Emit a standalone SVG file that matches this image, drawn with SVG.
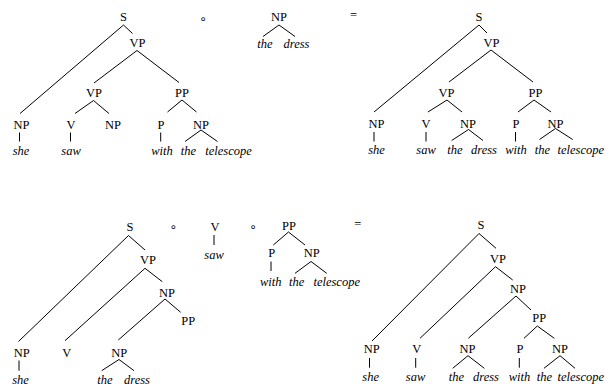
<svg xmlns="http://www.w3.org/2000/svg" width="605" height="387" viewBox="0 0 605 387">
<style>
text{font-family:"Liberation Serif","Times New Roman",serif;font-size:12.5px;fill:#000;text-anchor:middle}
.w{font-style:italic}
.e{text-anchor:end}
.op{font-family:"DejaVu Sans",sans-serif;font-size:12px}
#edges line{stroke:#000;stroke-width:1;fill:none}
</style>
<rect width="605" height="387" fill="#fff"/>
<g id="edges">
<!-- T1 top-left -->
<line x1="123.5" y1="25" x2="20" y2="113.5"/>
<line x1="123.5" y1="25" x2="132.5" y2="33.5"/>
<line x1="137" y1="50.5" x2="94" y2="83"/>
<line x1="137" y1="50.5" x2="179" y2="82.5"/>
<line x1="93.5" y1="100.5" x2="75" y2="113.5"/>
<line x1="93.5" y1="100.5" x2="109" y2="113.5"/>
<line x1="182" y1="100" x2="167.5" y2="112"/>
<line x1="182" y1="100" x2="196.5" y2="112"/>
<line x1="19.5" y1="132.5" x2="19.5" y2="141.5"/>
<line x1="70.5" y1="132.5" x2="70.5" y2="141.5"/>
<line x1="160.7" y1="132.5" x2="160.7" y2="141.5"/>
<line x1="201" y1="130" x2="185" y2="141.5"/>
<line x1="201" y1="130" x2="217.5" y2="141.5"/>
<!-- NP the dress -->
<line x1="279" y1="25" x2="263" y2="36.5"/>
<line x1="279" y1="25" x2="295" y2="36.5"/>
<!-- T2 top-right -->
<line x1="479" y1="25" x2="374" y2="112"/>
<line x1="479" y1="25" x2="487" y2="33"/>
<line x1="491" y1="50" x2="449" y2="82"/>
<line x1="491" y1="50" x2="533" y2="82"/>
<line x1="447" y1="100" x2="428" y2="112"/>
<line x1="447" y1="100" x2="462" y2="112"/>
<line x1="534" y1="100" x2="518" y2="112"/>
<line x1="534" y1="100" x2="551" y2="112"/>
<line x1="374" y1="132" x2="374" y2="141.5"/>
<line x1="426" y1="132" x2="426" y2="141.5"/>
<line x1="515.5" y1="132" x2="515.5" y2="141.5"/>
<line x1="468.5" y1="129.5" x2="451.7" y2="140.5"/>
<line x1="468.5" y1="129.5" x2="483" y2="140.5"/>
<line x1="555.5" y1="128.5" x2="539.5" y2="139.5"/>
<line x1="555.5" y1="128.5" x2="572.7" y2="139.5"/>
<!-- bottom middle -->
<line x1="214" y1="235" x2="214" y2="245"/>
<line x1="288.5" y1="232" x2="273.3" y2="245"/>
<line x1="288.5" y1="232" x2="305" y2="245"/>
<line x1="271" y1="261.5" x2="271" y2="271"/>
<line x1="311" y1="261.5" x2="295" y2="273.3"/>
<line x1="311" y1="261.5" x2="326.7" y2="273.3"/>
<!-- T3 bottom-left -->
<line x1="128.5" y1="235.5" x2="18.5" y2="341.5"/>
<line x1="128.5" y1="235.5" x2="145" y2="250"/>
<line x1="145" y1="268.3" x2="65" y2="340.7"/>
<line x1="145" y1="268.3" x2="162.3" y2="281.7"/>
<line x1="165" y1="299" x2="118.3" y2="340"/>
<line x1="165" y1="299" x2="180.7" y2="312.3"/>
<line x1="19" y1="360.5" x2="19" y2="370.7"/>
<line x1="119" y1="359.5" x2="101.7" y2="370.7"/>
<line x1="119" y1="359.5" x2="134" y2="370.7"/>
<!-- T4 bottom-right -->
<line x1="479" y1="233.5" x2="372" y2="341"/>
<line x1="479" y1="233.5" x2="496" y2="248.3"/>
<line x1="495.5" y1="266.7" x2="420" y2="338.3"/>
<line x1="495.5" y1="266.7" x2="512.7" y2="280"/>
<line x1="516" y1="296" x2="468.3" y2="338.3"/>
<line x1="516" y1="296" x2="531" y2="310"/>
<line x1="537.3" y1="326" x2="524" y2="338.3"/>
<line x1="537.3" y1="326" x2="554.3" y2="338.3"/>
<line x1="369.5" y1="358" x2="369.5" y2="367.7"/>
<line x1="415.7" y1="358" x2="415.7" y2="367.7"/>
<line x1="519.3" y1="358" x2="519.3" y2="367.7"/>
<line x1="468" y1="355.7" x2="452.7" y2="368.3"/>
<line x1="468" y1="355.7" x2="484.3" y2="368.3"/>
<line x1="560" y1="355.7" x2="544" y2="368.3"/>
<line x1="560" y1="355.7" x2="575" y2="368.3"/>
</g>
<!-- T1 -->
<g id="t1-S"><text x="123.5" y="20.5">S</text></g>
<g id="t1-VP"><text x="137.5" y="46.5">VP</text></g>
<g id="t1-VP2"><text x="94" y="96.5">VP</text></g>
<g id="t1-PP"><text x="182" y="96.5">PP</text></g>
<g id="t1-NP1"><text x="21.5" y="128.5">NP</text></g>
<g id="t1-V"><text x="71" y="128.5">V</text></g>
<g id="t1-NP2"><text x="113" y="128.5">NP</text></g>
<g id="t1-P"><text x="161" y="128.5">P</text></g>
<g id="t1-NP3"><text x="201" y="128.5">NP</text></g>
<g id="t1-she"><text class="w" x="21" y="155">she</text></g>
<g id="t1-saw"><text class="w" x="71" y="155">saw</text></g>
<g id="t1-with"><text class="w" x="162" y="155">with</text></g>
<g id="t1-the"><text class="w" x="188.5" y="155">the</text></g>
<g id="t1-telescope"><text class="w" x="228.5" y="155">telescope</text></g>
<g id="op1"><text class="op" x="203" y="22.5">∘</text></g>
<!-- NP the dress -->
<g id="np-dress"><text x="279" y="20.5">NP</text></g>
<g id="np-dress-the"><text class="w" x="265" y="48">the</text></g>
<g id="np-dress-dress"><text class="w" x="296.5" y="48">dress</text></g>
<g id="eq1"><text x="353.5" y="18.5">=</text></g>
<!-- T2 -->
<g id="t2-S"><text x="479" y="20.5">S</text></g>
<g id="t2-VP"><text x="491.5" y="46.5">VP</text></g>
<g id="t2-VP2"><text x="446.5" y="96.5">VP</text></g>
<g id="t2-PP"><text x="535.5" y="96.5">PP</text></g>
<g id="t2-NP1"><text x="376.5" y="128">NP</text></g>
<g id="t2-V"><text x="426" y="128">V</text></g>
<g id="t2-NP2"><text x="468" y="128">NP</text></g>
<g id="t2-P"><text x="516" y="128">P</text></g>
<g id="t2-NP3"><text x="555.5" y="128">NP</text></g>
<g id="t2-she"><text class="w" x="376.5" y="154">she</text></g>
<g id="t2-saw"><text class="w" x="426" y="154">saw</text></g>
<g id="t2-the1"><text class="w" x="455" y="154">the</text></g>
<g id="t2-dress"><text class="w" x="484" y="154">dress</text></g>
<g id="t2-with"><text class="w" x="516" y="154">with</text></g>
<g id="t2-the2"><text class="w" x="542.5" y="154">the</text></g>
<g id="t2-telescope"><text class="w e" x="604" y="154">telescope</text></g>
<!-- bottom middle -->
<g id="op2"><text class="op" x="173.3" y="230.7">∘</text></g>
<g id="m-V"><text x="215" y="230.5">V</text></g>
<g id="m-saw"><text class="w" x="214" y="259">saw</text></g>
<g id="op3"><text class="op" x="253" y="230.7">∘</text></g>
<g id="m-PP"><text x="289" y="230">PP</text></g>
<g id="m-P"><text x="271.7" y="257">P</text></g>
<g id="m-NP"><text x="311.7" y="257">NP</text></g>
<g id="m-with"><text class="w" x="270.7" y="285.7">with</text></g>
<g id="m-the"><text class="w" x="296.7" y="285.7">the</text></g>
<g id="m-telescope"><text class="w" x="336.7" y="285.7">telescope</text></g>
<g id="eq2"><text x="357.7" y="227.5">=</text></g>
<!-- T3 -->
<g id="t3-S"><text x="130" y="231">S</text></g>
<g id="t3-VP"><text x="148" y="264.3">VP</text></g>
<g id="t3-NP"><text x="167" y="296.7">NP</text></g>
<g id="t3-PP"><text x="188.3" y="325">PP</text></g>
<g id="t3-NP1"><text x="21.7" y="356.5">NP</text></g>
<g id="t3-V"><text x="66.7" y="356.5">V</text></g>
<g id="t3-NP2"><text x="119.3" y="356.5">NP</text></g>
<g id="t3-she"><text class="w" x="20.5" y="384">she</text></g>
<g id="t3-the"><text class="w" x="105" y="384">the</text></g>
<g id="t3-dress"><text class="w" x="137" y="384">dress</text></g>
<!-- T4 -->
<g id="t4-S"><text x="481" y="229">S</text></g>
<g id="t4-VP"><text x="498" y="262.7">VP</text></g>
<g id="t4-NP"><text x="518" y="293.3">NP</text></g>
<g id="t4-PP"><text x="539.3" y="322.3">PP</text></g>
<g id="t4-NP1"><text x="371.7" y="353">NP</text></g>
<g id="t4-V"><text x="416.7" y="353">V</text></g>
<g id="t4-NP2"><text x="467.5" y="353">NP</text></g>
<g id="t4-P"><text x="520" y="353">P</text></g>
<g id="t4-NP3"><text x="560" y="353">NP</text></g>
<g id="t4-she"><text class="w" x="370.7" y="381">she</text></g>
<g id="t4-saw"><text class="w" x="415.5" y="381">saw</text></g>
<g id="t4-the1"><text class="w" x="456.5" y="381">the</text></g>
<g id="t4-dress"><text class="w" x="486" y="381">dress</text></g>
<g id="t4-with"><text class="w" x="519.5" y="381">with</text></g>
<g id="t4-the2"><text class="w" x="544.5" y="381">the</text></g>
<g id="t4-telescope"><text class="w e" x="604" y="381">telescope</text></g>
</svg>
